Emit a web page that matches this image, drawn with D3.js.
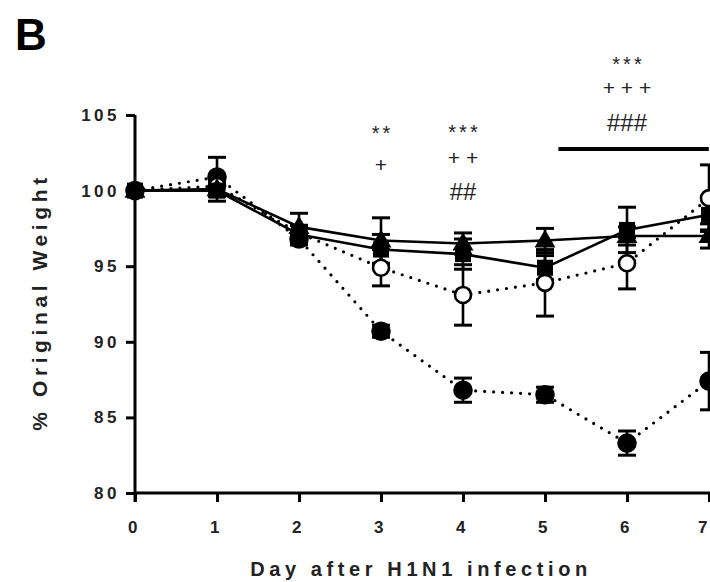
<!DOCTYPE html>
<html><head><meta charset="utf-8">
<script src="https://cdn.jsdelivr.net/npm/d3@7/dist/d3.min.js"></script>
<style>
body{margin:0;background:#fff;}
svg{display:block;font-family:"Liberation Sans",Arial,sans-serif;}
</style></head><body>
<svg id="c" width="710" height="582"></svg>
<script>
const days = [0,1,2,3,4,5,6,7];
const xTicks = [0,1,2,3,4,5,6,7];
const yTicks = [80,85,90,95,100,105];
// filled circles, dotted line
const filledCircleMean = [100,100.9,96.8,90.7,86.8,86.5,83.3,87.4];
const filledCircleErr  = [0,1.3,0.4,0.4,0.8,0.5,0.8,1.9];
// open circles, dotted line
const openCircleMean = [100,100.3,97.2,94.9,93.1,93.9,95.2,99.5];
const openCircleErr  = [0,0.5,0.5,1.2,2.0,2.2,1.7,2.2];
// filled squares, solid line
const squareMean = [100,100.0,97.1,96.1,95.8,94.9,97.4,98.4];
const squareErr  = [0,0.7,0.6,1.0,1.0,0.8,1.5,1.0];
// filled triangles, solid line
const triangleMean = [100,100.1,97.6,96.7,96.5,96.7,97.0,97.0];
const triangleErr  = [0,0.4,0.9,1.5,0.7,0.8,0.6,0.8];
// significance annotations
const annotDays = [3,4,6];
const annotRows = [["**","+",""],["***","+ +","##"],["***","+ + +","###"]];
const barFrom = 5.2, barTo = 6.9;

const svg = d3.select("#c");
const x = d3.scaleLinear().domain([0,7]).range([135,709]);
const y = d3.scaleLinear().domain([80,105]).range([493,115]);

// axes
const gx = svg.append("g").attr("transform","translate(0,493)")
  .call(d3.axisBottom(x).tickValues(xTicks).tickSize(9).tickPadding(19).tickFormat(d3.format("d")));
const gy = svg.append("g").attr("transform","translate(135,0)")
  .call(d3.axisLeft(y).tickValues(yTicks).tickSize(9).tickPadding(6).tickFormat(d3.format("d")));
[gx,gy].forEach(g=>{
  g.select(".domain").attr("stroke","#000").attr("stroke-width",3);
  g.selectAll(".tick line").attr("stroke","#000").attr("stroke-width",3);
  g.selectAll(".tick text").attr("fill","#222").attr("font-size",17).attr("font-weight","bold")
    .attr("font-family","'Liberation Sans',Arial,sans-serif").style("letter-spacing","3.5px");
});
gx.select(".domain").attr("d","M"+x.range()[0]+",0H"+(x.range()[1]+10));
gy.select(".domain").attr("d","M0,"+y.range()[1]+"V"+(y.range()[0]+9));
gx.selectAll(".tick text").attr("dx",d=>d===7?"-5px":"-1px");

// axis titles
svg.append("text").attr("x",421).attr("y",576).attr("text-anchor","middle")
  .attr("font-size",20).attr("font-weight","bold").attr("fill","#222")
  .style("letter-spacing","4.6px").text("Day after H1N1 infection");
svg.append("text").attr("transform","translate(47,302) rotate(-90)").attr("text-anchor","middle")
  .attr("font-size",21).attr("font-weight","bold").attr("fill","#222")
  .style("letter-spacing","4.6px").text("% Original Weight");
svg.append("text").attr("x",15).attr("y",50).attr("font-size",44).attr("font-weight","bold")
  .attr("fill","#000").text("B");

const series = [
  {mean:filledCircleMean, err:filledCircleErr, dotted:true, shape:"circle", fill:"#000"},
  {mean:openCircleMean, err:openCircleErr, dotted:true, shape:"circle", fill:"#fff"},
  {mean:squareMean, err:squareErr, dotted:false, shape:"square", fill:"#000"},
  {mean:triangleMean, err:triangleErr, dotted:false, shape:"triangle", fill:"#000"}
];
const line = d3.line().x((d,i)=>x(days[i])).y(d=>y(d));

series.forEach(s=>{
  const g = svg.append("g");
  g.append("path").attr("d",line(s.mean)).attr("fill","none").attr("stroke","#000")
    .attr("stroke-width",s.dotted?3.2:2.6)
    .attr("stroke-linecap",s.dotted?"round":"butt")
    .attr("stroke-dasharray",s.dotted?"0 9":null);
  days.forEach((d,i)=>{
    if(s.err[i]<=0) return;
    const cx=x(d), hi=y(s.mean[i]+s.err[i]), lo=y(s.mean[i]-s.err[i]);
    g.append("line").attr("x1",cx).attr("x2",cx).attr("y1",hi).attr("y2",lo).attr("stroke","#000").attr("stroke-width",2.6);
    [hi,lo].forEach(yy=>g.append("line").attr("x1",cx-9).attr("x2",cx+9).attr("y1",yy).attr("y2",yy)
      .attr("stroke","#000").attr("stroke-width",3));
  });
});
series.forEach(s=>{
  const g = svg.append("g");
  days.forEach((d,i)=>{
    const cx=x(d), cy=y(s.mean[i]);
    if(s.shape==="circle"){
      g.append("circle").attr("cx",cx).attr("cy",cy).attr("r",s.fill==="#fff"?8:8.5)
        .attr("fill",s.fill).attr("stroke","#000").attr("stroke-width",2.6);
    } else if(s.shape==="square"){
      g.append("rect").attr("x",cx-8).attr("y",cy-8).attr("width",16).attr("height",16).attr("fill","#000");
    } else {
      g.append("path").attr("d",d3.symbol(d3.symbolTriangle,190)()).attr("transform",`translate(${cx},${cy+1})`).attr("fill","#000");
    }
  });
});

// annotations: row centres, font sizes, spacing and glyph centre offsets
const rowY = [[128,165,0],[127,158,192],[59,88,123]];
const rowSize = [20,21,24];
const rowSpace = [3,0,0];
const rowOff = [11.6,7.3,8.3];
annotDays.forEach((d,k)=>{
  annotRows[k].forEach((t,j)=>{
    if(!t) return;
    svg.append("text").attr("x",x(d)+rowSpace[j]/2).attr("y",rowY[k][j]+rowOff[j]).attr("text-anchor","middle")
      .attr("font-size",rowSize[j]).attr("fill","#222").attr("font-family","'Liberation Sans',Arial,sans-serif")
      .style("letter-spacing",rowSpace[j]+"px").text(t);
  });
});
svg.append("line").attr("x1",x(barFrom)-3).attr("x2",x(barTo)+8).attr("y1",149).attr("y2",149)
  .attr("stroke","#000").attr("stroke-width",4);
</script>
</body></html>
